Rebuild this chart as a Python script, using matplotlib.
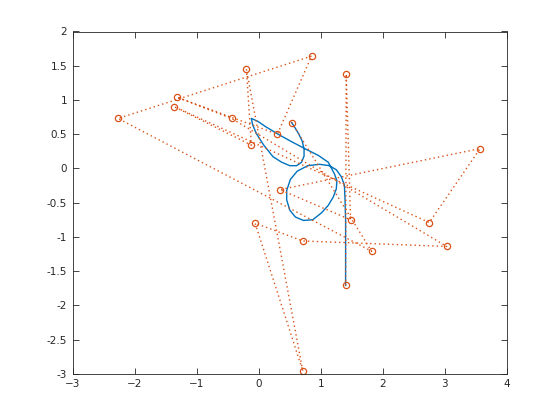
import matplotlib
matplotlib.use("Agg")
import matplotlib.pyplot as plt

# control polygon, in drawing order
ctrl_x = [1.40, 1.41, 1.48, 0.34, 3.57, 2.75, -1.36, -0.12, -0.20, 0.71,
          -0.06, 0.71, 3.03, -0.44, -1.32, 0.30, 0.85, -2.27, 1.82, 0.53]
ctrl_y = [-1.71, 1.38, -0.75, -0.31, 0.29, -0.79, 0.90, 0.34, 1.45, -2.96,
          -0.80, -1.06, -1.14, 0.73, 1.04, 0.50, 1.64, 0.73, -1.21, 0.67]

# curve
curve_x = [1.40, 1.40, 1.40, 1.39, 1.38, 1.33, 1.25, 1.14, 0.98, 0.79,
           0.62, 0.51, 0.45, 0.45, 0.50, 0.59, 0.72, 0.87, 1.01, 1.12,
           1.20, 1.25, 1.26, 1.22, 1.12, 0.96, 0.74, 0.53, 0.31, 0.11,
           -0.02, -0.12, -0.10, -0.04, 0.08, 0.23, 0.37, 0.50, 0.61, 0.69,
           0.73, 0.73, 0.70, 0.64, 0.58, 0.53]
curve_y = [-1.71, -1.20, -0.76, -0.43, -0.24, -0.12, -0.02, 0.04, 0.06, 0.04,
           -0.04, -0.16, -0.32, -0.46, -0.61, -0.71, -0.76, -0.75, -0.65, -0.54,
           -0.42, -0.30, -0.18, -0.08, 0.09, 0.19, 0.29, 0.39, 0.50, 0.61,
           0.69, 0.73, 0.64, 0.51, 0.34, 0.17, 0.09, 0.04, 0.04, 0.09,
           0.18, 0.28, 0.40, 0.51, 0.60, 0.67]

xticks = [-3, -2, -1, 0, 1, 2, 3, 4]
yticks = [-3, -2.5, -2, -1.5, -1, -0.5, 0, 0.5, 1, 1.5, 2]
ytick_labels = ['-3', '-2.5', '-2', '-1.5', '-1', '-0.5', '0', '0.5', '1', '1.5', '2']

axcol = '#262626'
fig = plt.figure(figsize=(5.6, 4.2), dpi=100)
ax = fig.add_axes([0.13, 0.11, 0.775, 0.815])

ax.plot(curve_x, curve_y, color='#0072BD', lw=1.0)
ax.plot(ctrl_x, ctrl_y, color='#D95319', lw=1.0, linestyle=(0, (1, 2.2)),
        marker='o', ms=4.5, mfc='none', mec='#D95319', mew=0.9)

ax.set_xlim(-3, 4)
ax.set_ylim(-3, 2)
ax.set_xticks(xticks)
ax.set_yticks(yticks)
ax.set_yticklabels(ytick_labels)
ax.tick_params(direction='in', length=4, width=0.6, top=True, right=True,
               labelsize=7.5, colors=axcol, pad=4)
for s in ax.spines.values():
    s.set_color(axcol)
    s.set_linewidth(0.6)

fig.savefig('out.png', dpi=100)
